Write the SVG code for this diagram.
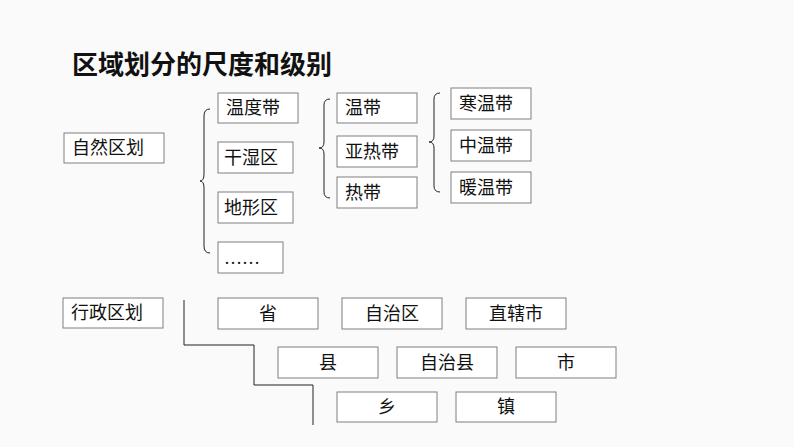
<svg xmlns="http://www.w3.org/2000/svg" width="794" height="447" viewBox="0 0 794 447">
<style>
.b{fill:#fff;stroke:#7f7f7f;stroke-width:1}
.t{font-family:"Liberation Serif","Noto Sans CJK SC",serif;font-size:18px;fill:#111;dominant-baseline:central}
.c{text-anchor:middle}
.k{fill:none;stroke:#222;stroke-width:1}
</style>
<rect width="794" height="447" fill="#fafafa"/>
<text x="72" y="62" font-family="Noto Sans CJK SC,sans-serif" font-size="26" font-weight="bold" fill="#111" dominant-baseline="central">区域划分的尺度和级别</text>
<g id="n1"><rect class="b" x="64" y="133" width="100" height="30"/><text class="t" x="72" y="148">自然区划</text></g>
<g id="n2"><rect class="b" x="218" y="93" width="80" height="30"/><text class="t" x="226" y="108">温度带</text></g>
<g id="n3"><rect class="b" x="218" y="142" width="75" height="31"/><text class="t" x="224" y="158">干湿区</text></g>
<g id="n4"><rect class="b" x="218" y="192" width="75" height="31"/><text class="t" x="224" y="208">地形区</text></g>
<g id="n5"><rect class="b" x="218" y="242" width="65" height="31"/><text class="t" x="224" y="258">……</text></g>
<g id="n6"><rect class="b" x="337" y="93" width="80" height="30"/><text class="t" x="345" y="108">温带</text></g>
<g id="n7"><rect class="b" x="337" y="136" width="80" height="31"/><text class="t" x="345" y="152">亚热带</text></g>
<g id="n8"><rect class="b" x="337" y="177" width="80" height="31"/><text class="t" x="345" y="193">热带</text></g>
<g id="n9"><rect class="b" x="451" y="88" width="80" height="31"/><text class="t" x="459" y="104">寒温带</text></g>
<g id="n10"><rect class="b" x="451" y="130" width="80" height="31"/><text class="t" x="459" y="146">中温带</text></g>
<g id="n11"><rect class="b" x="451" y="172" width="80" height="31"/><text class="t" x="459" y="188">暖温带</text></g>
<g id="n12"><rect class="b" x="63" y="298" width="100" height="30"/><text class="t" x="71" y="313">行政区划</text></g>
<g id="n13"><rect class="b" x="218" y="298" width="100" height="31"/><text class="t c" x="268" y="314">省</text></g>
<g id="n14"><rect class="b" x="342" y="298" width="100" height="31"/><text class="t c" x="392" y="314">自治区</text></g>
<g id="n15"><rect class="b" x="466" y="298" width="100" height="31"/><text class="t c" x="516" y="314">直辖市</text></g>
<g id="n16"><rect class="b" x="278" y="347" width="100" height="31"/><text class="t c" x="328" y="363">县</text></g>
<g id="n17"><rect class="b" x="397" y="347" width="100" height="31"/><text class="t c" x="447" y="363">自治县</text></g>
<g id="n18"><rect class="b" x="516" y="347" width="100" height="31"/><text class="t c" x="566" y="363">市</text></g>
<g id="n19"><rect class="b" x="337" y="392" width="100" height="30"/><text class="t c" x="387" y="407">乡</text></g>
<g id="n20"><rect class="b" x="456" y="392" width="100" height="30"/><text class="t c" x="506" y="407">镇</text></g>
<g id="connectors">
<path class="k" d="M210,109 Q204,109 204,116 V174 Q204,181 200,181 Q204,181 204,188 V246 Q204,253 210,253"/>
<path class="k" d="M330,99 Q324,99 324,105 V142 Q324,148 319,148 Q324,148 324,154 V192 Q324,198 330,198"/>
<path class="k" d="M440,93 Q434,93 434,99 V136 Q434,142 429,142 Q434,142 434,148 V186 Q434,192 440,192"/>
<path class="k" d="M184,300 V345 H254 V385 H313 V425"/>
</g>
</svg>
